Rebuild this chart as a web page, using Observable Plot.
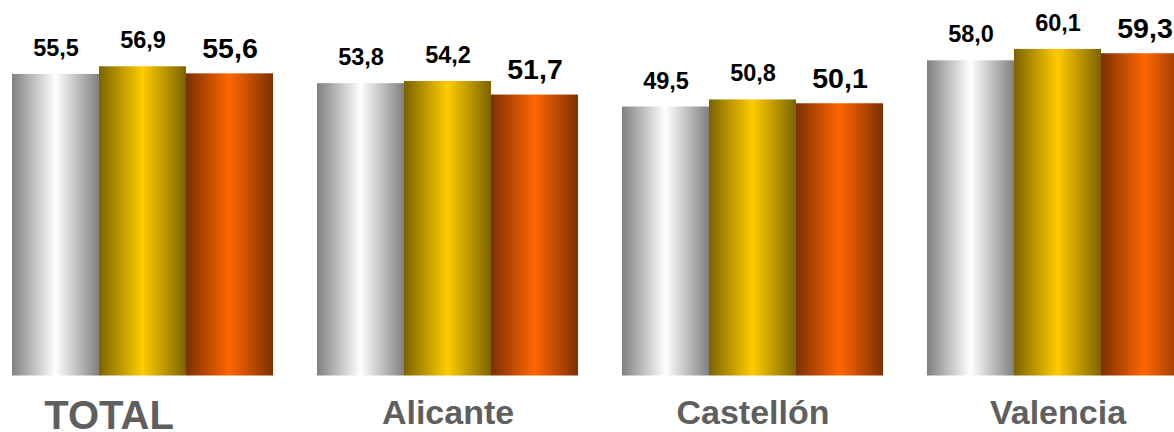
<!DOCTYPE html>
<html>
<head>
<meta charset="utf-8">
<script src="https://cdn.jsdelivr.net/npm/d3@7"></script>
<script src="https://cdn.jsdelivr.net/npm/@observablehq/plot@0.6"></script>
<style>
  html, body { margin: 0; padding: 0; background: #fff; overflow: hidden; }
  #chart svg { display: block; }
</style>
</head>
<body>
<div id="chart"></div>
<script>
// ---- data ----
const regions = ["TOTAL", "Alicante", "Castellón", "Valencia"];
const seriesKeys = ["A", "B", "C"];
const valuesA = [55.5, 53.8, 49.5, 58.0];
const valuesB = [56.9, 54.2, 50.8, 60.1];
const valuesC = [55.6, 51.7, 50.1, 59.3];

// ---- table built from arrays ----
const seriesValues = [valuesA, valuesB, valuesC];
const rows = [];
regions.forEach((r, i) => {
  seriesKeys.forEach((s, j) => rows.push({region: r, s, v: seriesValues[j][i]}));
});
const fmt = v => d3.format(".1f")(v).replace(".", ",");
const font = "'Liberation Sans', Arial, sans-serif";

const chart = Plot.plot({
  width: 1174,
  height: 432,
  marginLeft: 10,
  marginRight: -15,
  marginTop: 0,
  marginBottom: 56.5,
  style: {background: "white", fontFamily: font},
  fx: {domain: regions, paddingInner: 0.1386, paddingOuter: 0, axis: null},
  x: {domain: seriesKeys, padding: 0, axis: null},
  y: {domain: [0, 69.1], axis: null},
  color: {domain: seriesKeys, range: ["url(#gA)", "url(#gB)", "url(#gC)"]},
  marks: [
    Plot.barY(rows, {fx: "region", x: "s", y: "v", fill: "s"}),
    Plot.text(rows.filter(d => d.s !== "C"), {
      fx: "region", x: "s", y: "v", text: d => fmt(d.v), lineAnchor: "middle",
      dy: -26, fontSize: 23.5, fontWeight: "bold", fill: "#000", fontFamily: font
    }),
    Plot.text(rows.filter(d => d.s === "C"), {
      fx: "region", x: "s", y: "v", text: d => fmt(d.v), lineAnchor: "middle",
      dy: -25, fontSize: 28.5, fontWeight: "bold", fill: "#000", fontFamily: font
    }),
    Plot.text(regions.filter(r => r === "TOTAL"), {
      fx: d => d, frameAnchor: "bottom", lineAnchor: "middle", text: d => d,
      dx: -34, dy: 40.5, fontSize: 40, fontWeight: "bold", fill: "#5f5f5f", fontFamily: font
    }),
    Plot.text(regions.filter(r => r !== "TOTAL"), {
      fx: d => d, frameAnchor: "bottom", lineAnchor: "middle", text: d => d,
      dy: 37.5, fontSize: 34, fontWeight: "bold", fill: "#5f5f5f", fontFamily: font
    })
  ]
});

// gradient definitions for the bar fills
const NS = "http://www.w3.org/2000/svg";
const defs = document.createElementNS(NS, "defs");
const grads = {
  gA: ["#808080", "#ffffff", "#808080"],
  gB: ["#7c6300", "#ffcc00", "#7c6300"],
  gC: ["#7c3000", "#ff6600", "#7c3000"]
};
for (const [id, cols] of Object.entries(grads)) {
  const g = document.createElementNS(NS, "linearGradient");
  g.setAttribute("id", id);
  g.setAttribute("x1", "0"); g.setAttribute("x2", "1");
  g.setAttribute("y1", "0"); g.setAttribute("y2", "0");
  [0, 0.5, 1].forEach((o, k) => {
    const st = document.createElementNS(NS, "stop");
    st.setAttribute("offset", o);
    st.setAttribute("stop-color", cols[k]);
    g.appendChild(st);
  });
  defs.appendChild(g);
}
chart.insertBefore(defs, chart.firstChild);
document.getElementById("chart").appendChild(chart);
</script>
</body>
</html>
